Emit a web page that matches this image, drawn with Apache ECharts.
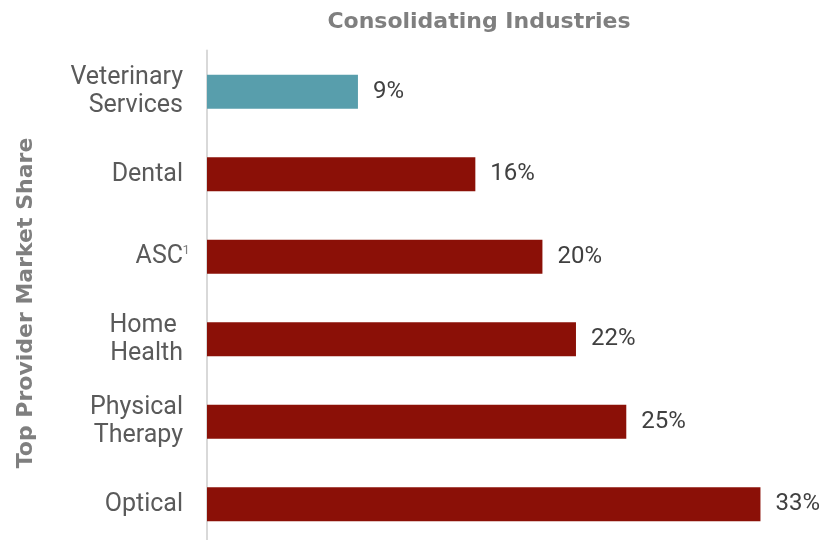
<!DOCTYPE html>
<html>
<head>
<meta charset="utf-8">
<script src="https://cdn.jsdelivr.net/npm/echarts@6/dist/echarts.min.js"></script>
<style>
  html, body { margin: 0; padding: 0; background: #ffffff; }
  #chart { width: 837px; height: 540px; }
</style>
</head>
<body>
<div id="chart"></div>
<script>
// Industries, listed top to bottom
var categories = ['Veterinary\nServices', 'Dental', 'ASC', 'Home \nHealth', 'Physical\nTherapy', 'Optical'];
// Top provider market share, percent
var shares = [9, 16, 20, 22, 25, 33];
// Footnote markers shown after a category name
var footnotes = { 'ASC': '1' };
// The highlighted industry
var highlight = 'Veterinary\nServices';

var chart = echarts.init(document.getElementById('chart'), null, { renderer: 'canvas' });

var barData = categories.map(function (c, i) {
  return {
    value: shares[i],
    itemStyle: { color: c === highlight ? '#589eac' : '#8b1007' }
  };
});

chart.setOption({
  animation: false,
  backgroundColor: '#ffffff',
  title: {
    text: 'Consolidating Industries',
    left: 474,
    textAlign: 'center',
    top: 6,
    textStyle: {
      fontFamily: 'DejaVu Sans',
      fontWeight: 'bold',
      fontSize: 22,
      color: '#7f7f7f'
    }
  },
  grid: {
    left: 207,
    right: 43,
    top: 50.5,
    bottom: -5.5,
    containLabel: false,
    outerBoundsMode: 'none'
  },
  xAxis: {
    type: 'value',
    min: 0,
    max: 35,
    show: false
  },
  yAxis: {
    type: 'category',
    data: categories,
    inverse: true,
    name: 'Top Provider Market Share',
    nameLocation: 'middle',
    nameRotate: 90,
    nameGap: 170,
    nameTextStyle: {
      fontFamily: 'DejaVu Sans',
      fontWeight: 'bold',
      fontSize: 22,
      color: '#7f7f7f',
      padding: [0, 10, 0, 0]
    },
    axisLine: { show: true, lineStyle: { color: '#d9d9d9', width: 2 } },
    axisTick: { show: false },
    splitLine: { show: false },
    axisLabel: {
      margin: 24,
      fontFamily: 'Roboto',
      fontSize: 25,
      lineHeight: 28,
      color: '#5a5a5a',
      align: 'right',
      formatter: function (v) {
        return footnotes[v] ? v + '{sup|  ' + footnotes[v] + '}' : v;
      },
      rich: {
        sup: {
          fontFamily: 'Roboto',
          fontSize: 13,
          color: '#7f7f7f',
          width: 0,
          align: 'left',
          verticalAlign: 'middle',
          padding: [0, 0, 12, 0]
        }
      }
    }
  },
  series: [{
    type: 'bar',
    data: barData,
    barWidth: 34,
    label: {
      show: true,
      position: 'right',
      distance: 15,
      fontFamily: 'Roboto',
      fontSize: 24,
      color: '#404040',
      formatter: function (p) { return p.value + '%'; }
    }
  }]
});
</script>
</body>
</html>
